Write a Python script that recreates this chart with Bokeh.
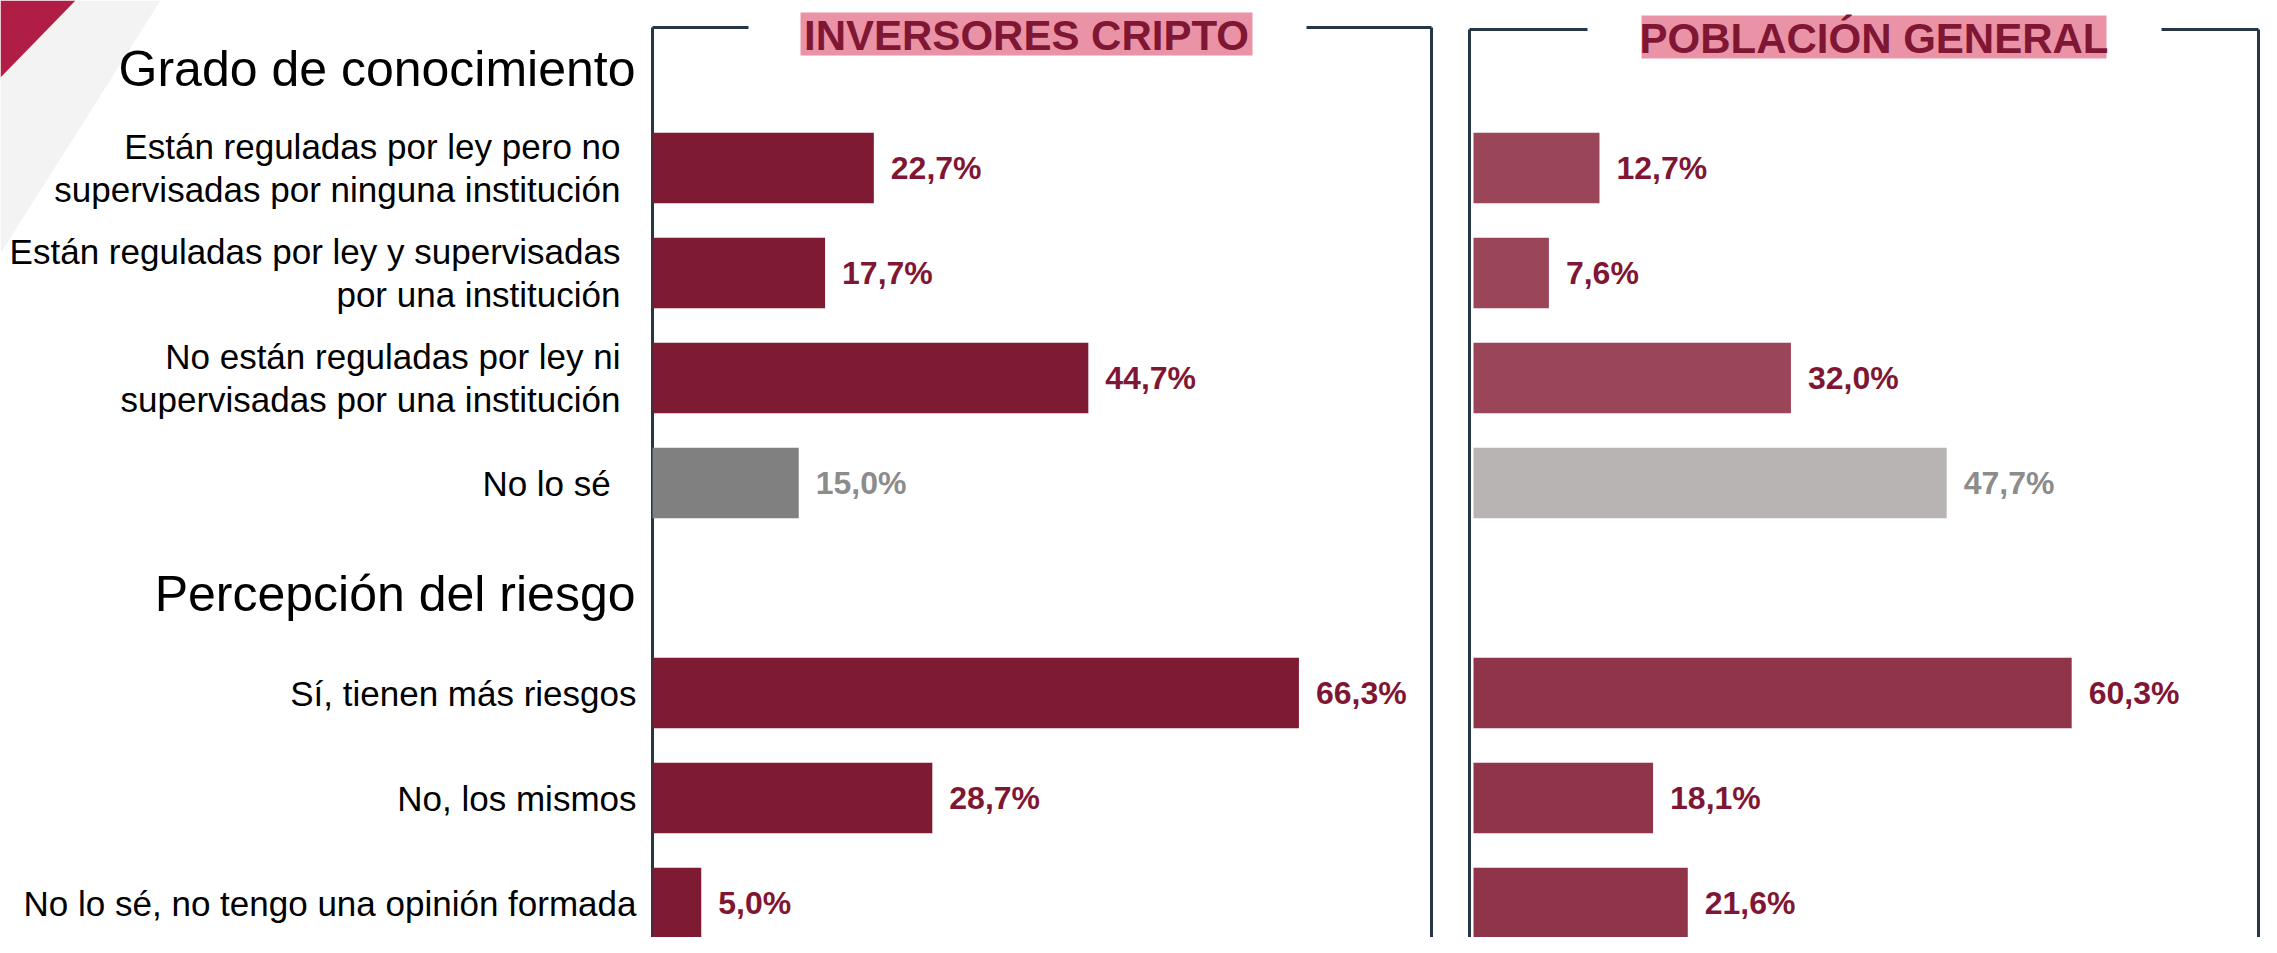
from bokeh.plotting import figure
from bokeh.models import Range1d, ColumnDataSource
from bokeh.core.properties import value
from bokeh.embed import file_html
from bokeh.resources import INLINE

# ---------------- data ----------------
sections = ["Grado de conocimiento", "Percepción del riesgo"]
group_sizes = [4, 3]
categories = [
    "Están reguladas por ley pero no\nsupervisadas por ninguna institución",
    "Están reguladas por ley y supervisadas\npor una institución",
    "No están reguladas por ley ni\nsupervisadas por una institución",
    "No lo sé ",
    "Sí, tienen más riesgos",
    "No, los mismos",
    "No lo sé, no tengo una opinión formada",
]
crypto = [22.7, 17.7, 44.7, 15.0, 66.3, 28.7, 5.0]
poblacion = [12.7, 7.6, 32.0, 47.7, 60.3, 18.1, 21.6]
is_unknown = [False, False, False, True, False, False, False]
panel_titles = ["INVERSORES CRIPTO", "POBLACIÓN GENERAL"]

# ---------------- styling ----------------
FONT = "Liberation Sans"
DARK = "#7f1a33"
LABEL_RED = "#7f1734"
FRAME = "#253746"
PINK = "#ea93a6"

W, H = 2261, 937

# slot positions: each section header takes one slot, then its categories
slots, sec_slots, grp = [], [], []
s = -1
for gi, n in enumerate(group_sizes):
    sec_slots.append(s)
    for _ in range(n):
        s += 1
        slots.append(s)
        grp.append(gi)
    s += 1

# crypto axis: 0% at x=652, 9.75 px per %; bar slot 0 centred at y=167.5, 105 px per slot
cx0, cpx = 652, 9.75
qx0, qpx = 1473, 9.92
y0, ypx = 167.5, 105.0

p = figure(width=W, height=H,
           x_range=Range1d(-cx0 / cpx, (W - cx0) / cpx),
           y_range=Range1d((H - y0) / ypx, -y0 / ypx),
           output_backend="svg", toolbar_location=None,
           x_axis_location=None, y_axis_location=None,
           min_border=0, outline_line_color=None,
           background_fill_color="white", border_fill_color="white")
p.grid.visible = False
p.extra_x_ranges = {"pop": Range1d(-qx0 / qpx, (W - qx0) / qpx), "px": Range1d(0, W)}
p.extra_y_ranges = {"py": Range1d(H, 0)}

# decoration top-left
p.patch([75, 160, 0, 0], [0, 0, 253, 77],
        x_range_name="px", y_range_name="py", fill_color="#f3f3f3", line_color=None)
p.patch([0, 75, 0], [0, 0, 77],
        x_range_name="px", y_range_name="py", fill_color="#b01e45", line_color=None)

# frames (brackets with gap for the header)
def frame(x0, x1, ytop, gap0, gap1):
    xs = [[x0, x0], [x1, x1], [x0, gap0], [gap1, x1]]
    ys = [[ytop, H + 5], [ytop, H + 5], [ytop, ytop], [ytop, ytop]]
    p.multi_line(xs, ys, x_range_name="px", y_range_name="py",
                 line_color=FRAME, line_width=3)

frame(652, 1431, 27, 748, 1306)
frame(1469, 2258, 29, 1587, 2161)

# header boxes
boxes = [(800, 1252, 12, 55), (1641, 2106, 15, 58)]
for (l, r, t, b), title in zip(boxes, panel_titles):
    p.quad(left=l, right=r, top=t, bottom=b, x_range_name="px",
           y_range_name="py", fill_color=PINK, line_color=None)
    p.text(x=[(l + r) / 2], y=[(t + b) / 2 + 1], text=[title], x_range_name="px",
           y_range_name="py", text_font=value(FONT), text_font_style="bold",
           text_font_size="42px", text_color=LABEL_RED, text_align="center",
           text_baseline="middle")

# bars
c_colors = ["#808080" if u else DARK for u in is_unknown]
pop_main = ["#9a4558", "#8f3449"]
p_colors = ["#b8b4b3" if u else pop_main[g] for u, g in zip(is_unknown, grp)]
lab_colors = ["#8c8c8c" if u else LABEL_RED for u in is_unknown]

def fmt(v):
    return f"{v:.1f}".replace(".", ",") + "%"

src_c = ColumnDataSource(dict(y=slots, v=crypto, c=c_colors, lc=lab_colors,
                              t=[fmt(v) for v in crypto]))
src_p = ColumnDataSource(dict(y=slots, v=poblacion, c=p_colors, lc=lab_colors,
                              t=[fmt(v) for v in poblacion]))

p.hbar(y="y", left=0, right="v", height=0.67, fill_color="c", line_color=None, source=src_c)
p.hbar(y="y", left=0, right="v", height=0.67, fill_color="c", line_color=None,
       source=src_p, x_range_name="pop")

p.text(x="v", y="y", text="t", source=src_c, x_offset=17, text_font=value(FONT),
       text_font_style="bold", text_font_size="32px", text_color="lc",
       text_baseline="middle", text_align="left")
p.text(x="v", y="y", text="t", source=src_p, x_offset=17, text_font=value(FONT),
       text_font_style="bold", text_font_size="32px", text_color="lc",
       text_baseline="middle", text_align="left", x_range_name="pop")

# category labels
right_edges = [620, 636]
p.text(x=[right_edges[g] for g in grp], y=slots, text=categories,
       x_range_name="px",
       text_font=value(FONT), text_font_size="35px", text_color="black",
       text_align="right", text_baseline="middle", text_line_height=1.12)

# section titles
p.text(x=[635] * len(sections), y=[v + 0.06 for v in sec_slots], text=sections,
       x_range_name="px", text_font=value(FONT), text_font_size="50px",
       text_color="black", text_align="right", text_baseline="middle")

open("out.html", "w").write(file_html(p, INLINE))
